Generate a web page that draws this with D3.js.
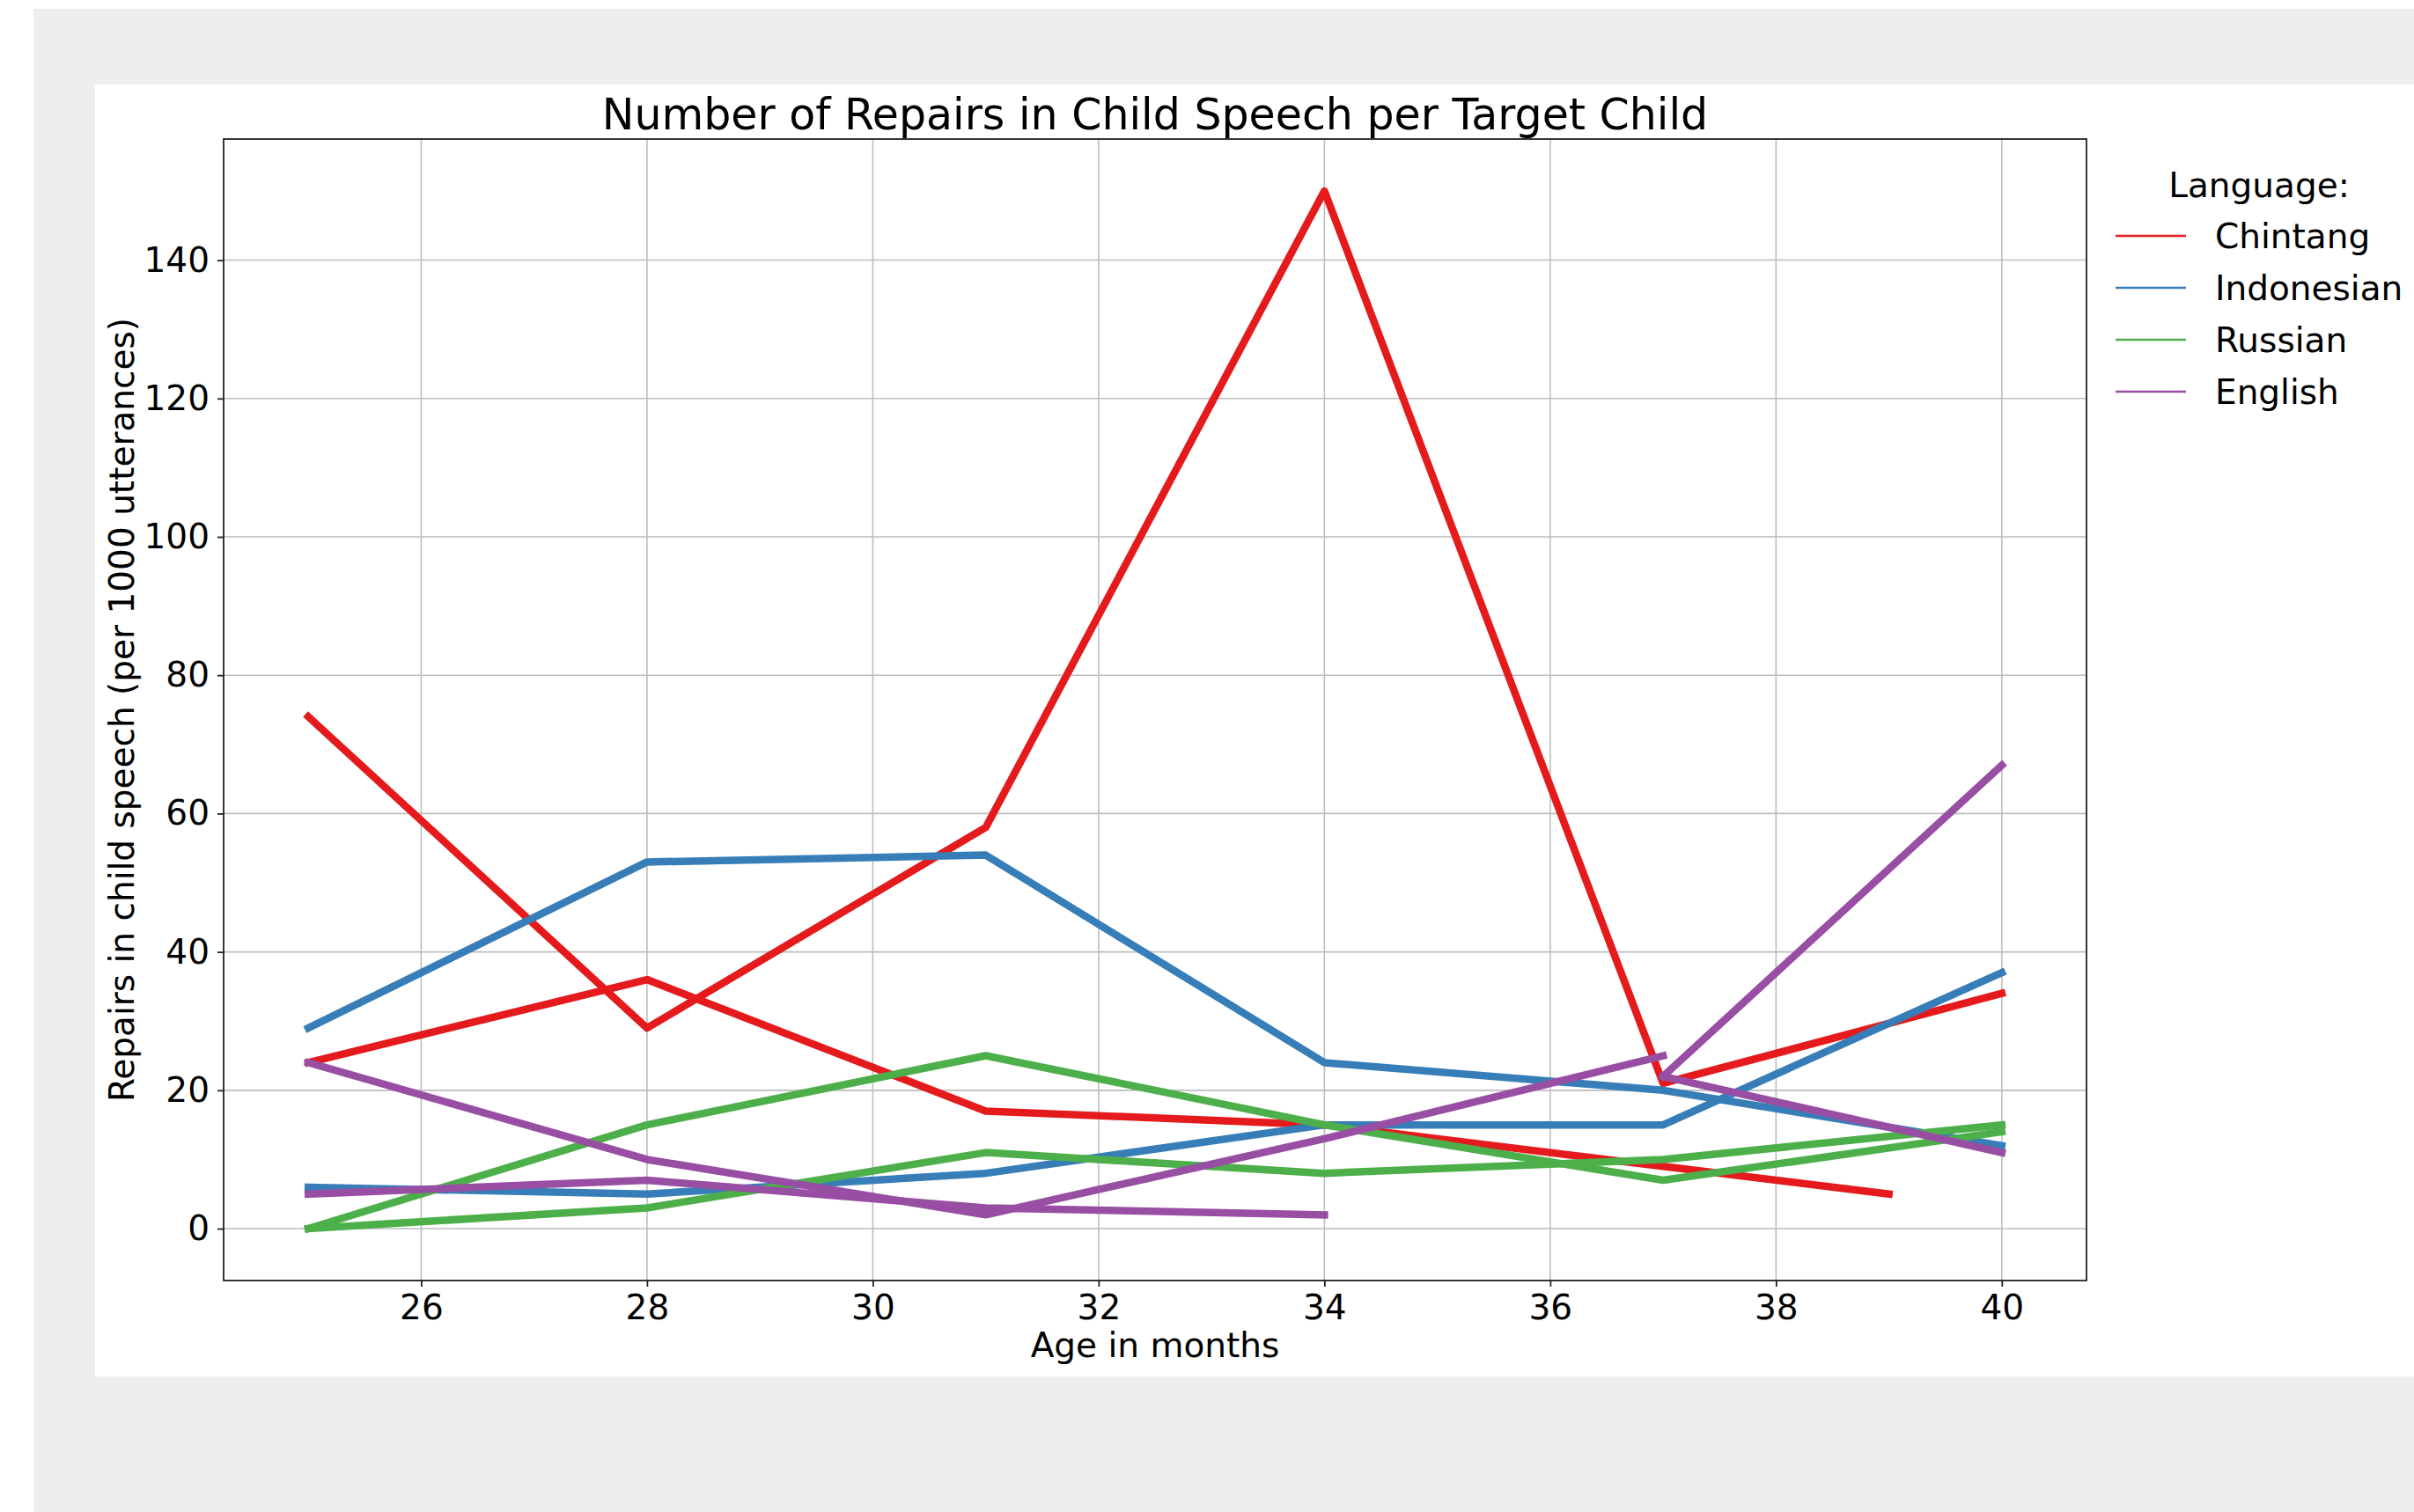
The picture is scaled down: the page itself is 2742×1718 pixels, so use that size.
<!DOCTYPE html>
<html>
<head>
<meta charset="utf-8">
<script src="https://cdn.jsdelivr.net/npm/d3@7.9.0/dist/d3.min.js"></script>
<style>
  body { margin: 0; background: #fff; }
  svg { display: block; font-family: "DejaVu Sans", sans-serif; }
</style>
</head>
<body>
<svg id="chart" width="2742" height="1718"></svg>
<script>
// ages (months) at which each target child was recorded
const ages = [25, 28, 31, 34, 37, 40];
const agesTo39 = [25, 28, 31, 34, 37, 39];
const agesTo37 = [25, 28, 31, 34, 37];
const agesTo34 = [25, 28, 31, 34];
const agesLate = [37, 40];

// repairs per 1000 utterances, one array per child
const chintang1 = [74, 29, 58, 150, 21, 34];
const chintang2 = [24, 36, 17, 15, 9, 5];
const indonesian1 = [29, 53, 54, 24, 20, 12];
const indonesian2 = [6, 5, 8, 15, 15, 37];
const russian1 = [0, 15, 25, 15, 7, 14];
const russian2 = [0, 3, 11, 8, 10, 15];
const english1 = [24, 10, 2, 13, 25];
const english2 = [5, 7, 3, 2];
const english3 = [22, 67];
const english4 = [22, 11];

const languages = ["Chintang", "Indonesian", "Russian", "English"];
const colors = ["#e41a1c", "#377eb8", "#4daf4a", "#984ea3"];
const xTicks = [26, 28, 30, 32, 34, 36, 38, 40];
const yTicks = [0, 20, 40, 60, 80, 100, 120, 140];

const series = [
  { lang: "Chintang", x: ages, y: chintang1 },
  { lang: "Chintang", x: agesTo39, y: chintang2 },
  { lang: "Indonesian", x: ages, y: indonesian1 },
  { lang: "Indonesian", x: ages, y: indonesian2 },
  { lang: "Russian", x: ages, y: russian1 },
  { lang: "Russian", x: ages, y: russian2 },
  { lang: "English", x: agesTo37, y: english1 },
  { lang: "English", x: agesTo34, y: english2 },
  { lang: "English", x: agesLate, y: english3 },
  { lang: "English", x: agesLate, y: english4 },
];

const color = d3.scaleOrdinal().domain(languages).range(colors);

const svg = d3.select("#chart");

// page background + figure panel
svg.append("rect").attr("x", 38).attr("y", 10).attr("width", 2742 - 38).attr("height", 1718 - 10).attr("fill", "#edeef0");
svg.append("rect").attr("x", 108).attr("y", 96).attr("width", 2742 - 108).attr("height", 1564 - 96).attr("fill", "#fff");

const plotLeft = 254, plotRight = 2370, plotTop = 158, plotBottom = 1455;

let x = d3.scaleLinear().domain([24.25, 40.75]).range([plotLeft, plotRight]);
let y = d3.scaleLinear().domain([-7.5, 157.5]).range([plotBottom, plotTop]);

// grid
svg.append("g").selectAll("line").data(xTicks).join("line")
  .attr("x1", d => x(d)).attr("x2", d => x(d))
  .attr("y1", plotTop).attr("y2", plotBottom)
  .attr("stroke", "#bdbdbd").attr("stroke-width", 1.6);
svg.append("g").selectAll("line").data(yTicks).join("line")
  .attr("x1", plotLeft).attr("x2", plotRight)
  .attr("y1", d => y(d)).attr("y2", d => y(d))
  .attr("stroke", "#bdbdbd").attr("stroke-width", 1.6);

// axes
let xAxis = svg.append("g")
  .attr("transform", `translate(0,${plotBottom})`)
  .call(d3.axisBottom(x).tickValues(xTicks).tickSize(7).tickPadding(9));
let yAxis = svg.append("g")
  .attr("transform", `translate(${plotLeft},0)`)
  .call(d3.axisLeft(y).tickValues(yTicks).tickSize(7).tickPadding(9));
[xAxis, yAxis].forEach(a => {
  a.select(".domain").remove();
  a.selectAll("line").attr("stroke", "#222").attr("stroke-width", 1.8);
  a.selectAll("text").attr("font-size", 39).attr("fill", "#000")
    .attr("font-family", "DejaVu Sans, sans-serif");
});

// lines
const line = d3.line().x(d => x(d[0])).y(d => y(d[1]));
series.forEach(s => {
  svg.append("path")
    .datum(s.x.map((a, i) => [a, s.y[i]]))
    .attr("d", line)
    .attr("fill", "none")
    .attr("stroke", color(s.lang))
    .attr("stroke-width", 8.5)
    .attr("stroke-linejoin", "round")
    .attr("stroke-linecap", "square");
});

// frame
svg.append("rect").attr("x", plotLeft).attr("y", plotTop)
  .attr("width", plotRight - plotLeft).attr("height", plotBottom - plotTop)
  .attr("fill", "none").attr("stroke", "#222").attr("stroke-width", 1.8);

// titles
svg.append("text").attr("x", (plotLeft + plotRight) / 2).attr("y", 147)
  .attr("text-anchor", "middle").attr("font-size", 49)
  .text("Number of Repairs in Child Speech per Target Child");
svg.append("text").attr("x", (plotLeft + plotRight) / 2).attr("y", 1542)
  .attr("text-anchor", "middle").attr("font-size", 39)
  .text("Age in months");
svg.append("text")
  .attr("transform", `translate(152,${(plotTop + plotBottom) / 2}) rotate(-90)`)
  .attr("text-anchor", "middle").attr("font-size", 39)
  .text("Repairs in child speech (per 1000 utterances)");

// legend
let legend = svg.append("g");
legend.append("text").attr("x", 2566).attr("y", 224)
  .attr("text-anchor", "middle").attr("font-size", 39).text("Language:");
languages.forEach((lang, idx) => {
  let ly = 268 + idx * 59;
  legend.append("line").attr("x1", 2403).attr("x2", 2483)
    .attr("y1", ly).attr("y2", ly)
    .attr("stroke", color(lang)).attr("stroke-width", 2.5);
  legend.append("text").attr("x", 2516).attr("y", ly + 14)
    .attr("font-size", 39).text(lang);
});
</script>
</body>
</html>
